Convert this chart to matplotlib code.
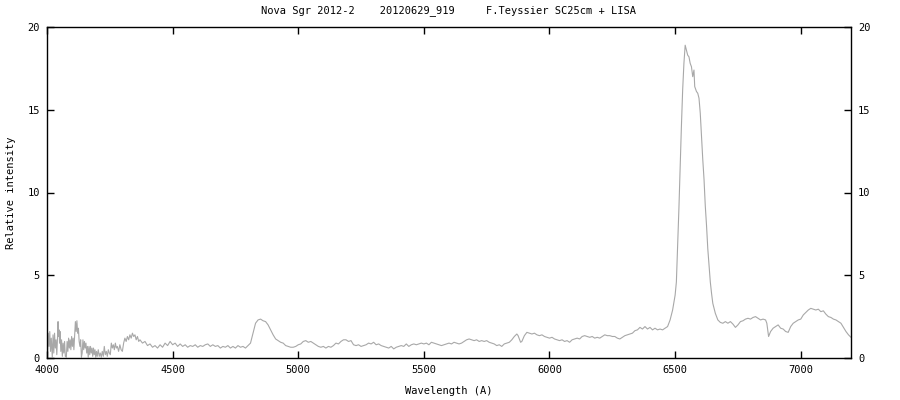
import matplotlib
matplotlib.use("Agg")
import matplotlib.pyplot as plt

wl_blue = [4000, 4002, 4005, 4008, 4011, 4014, 4017, 4021, 4024, 4027, 4030, 4033, 4036, 4039,
           4042, 4044, 4046, 4048, 4050, 4052, 4055, 4058, 4061, 4064, 4067, 4070, 4073, 4077,
           4080, 4083, 4086, 4089, 4092, 4095, 4098, 4101, 4104, 4107, 4110, 4113, 4116, 4119,
           4122, 4125, 4128, 4131, 4134, 4137, 4140, 4143, 4146, 4149, 4152, 4155, 4158, 4161,
           4164, 4167, 4170, 4173, 4176, 4179, 4182, 4185, 4188, 4191, 4194, 4197, 4200, 4204,
           4208, 4212, 4216, 4220, 4224, 4228, 4232, 4236, 4240, 4244, 4248, 4252, 4256, 4260,
           4264, 4268, 4272, 4276, 4280, 4285, 4290, 4295, 4300, 4305, 4310, 4315, 4320]
fl_blue = [2.9, 0.2, 1.5, 0.7, 1.6, 0.4, 1.2, 0.05, 1.4, 0.3, 1.5, 0.6, 1.1, 0.2,
           1.3, 2.2, 1.3, 1.7, 0.9, 1.6, 0.4, 1.1, 0.1, 0.9, 0.3, 1.0, 0.1, 0.05,
           1.0, 0.4, 1.2, 0.6, 1.1, 0.5, 1.3, 0.7, 1.2, 0.5, 1.4, 2.2, 1.6, 2.25,
           1.5, 1.8, 1.0, 0.7, 1.1, 0.05, 0.3, 1.1, 0.5, 1.0, 0.6, 0.9, 0.3, 0.7,
           0.05, 0.7, 0.2, 0.7, 0.3, 0.6, 0.1, 0.6, 0.2, 0.5, 0.05, 0.4, 0.1, 0.5,
           0.1, 0.3, 0.05, 0.4, 0.1, 0.7, 0.2, 0.4, 0.1, 0.5, 0.3, 0.2, 0.9, 0.6,
           0.8, 0.5, 0.9, 0.6, 0.7, 0.4, 0.8, 0.5, 0.4, 0.9, 1.2, 1.0, 1.3]

wl_mid = [4325, 4330, 4335, 4340, 4345, 4350, 4355, 4360, 4365, 4370, 4380, 4390, 4400, 4410,
          4420, 4430, 4440, 4450, 4460, 4470, 4480, 4490, 4500, 4510, 4520, 4530, 4540, 4550,
          4560, 4570, 4580, 4590, 4600, 4610, 4620, 4630, 4640, 4650, 4660, 4670, 4680, 4690,
          4700, 4710, 4720, 4730, 4740, 4750, 4760, 4770, 4780, 4790, 4800, 4810, 4820, 4830,
          4840, 4850, 4860, 4870, 4880, 4890, 4900, 4910, 4920, 4930, 4940, 4950, 4960, 4970,
          4980, 4990, 5000, 5010, 5020, 5030, 5040, 5050, 5060, 5070, 5080, 5090, 5100, 5110,
          5120, 5130, 5140, 5150, 5160, 5170, 5180, 5190, 5200, 5210, 5220, 5230, 5240, 5250,
          5260, 5270, 5280, 5290, 5300, 5310, 5320, 5330, 5340, 5350, 5360, 5370, 5380, 5390,
          5400, 5410, 5420, 5430, 5440, 5450, 5460, 5470, 5480, 5490, 5500, 5510, 5520, 5530,
          5540, 5550, 5560, 5570, 5580, 5590, 5600, 5610, 5620, 5630, 5640, 5650, 5660, 5670,
          5680, 5690, 5700, 5710, 5720, 5730, 5740, 5750, 5760, 5770, 5780, 5790, 5800, 5810,
          5820, 5830, 5840, 5850, 5860, 5870, 5875, 5885, 5890, 5900, 5910, 5920, 5930, 5940,
          5950, 5960, 5970, 5980, 5990, 6000, 6010, 6020, 6030, 6040, 6050, 6060, 6070, 6080,
          6090, 6100, 6110, 6120, 6130, 6140, 6150, 6160, 6170, 6180, 6190, 6200, 6210, 6220,
          6230, 6240, 6250, 6260, 6270, 6280, 6290, 6300, 6310, 6320, 6330, 6340, 6350, 6360,
          6370, 6380, 6390, 6400, 6410, 6420, 6430, 6440, 6450, 6460, 6470, 6480, 6490]
fl_mid = [1.1, 1.4, 1.2, 1.5, 1.3, 1.4, 1.1, 1.3, 1.0, 1.1, 0.9, 1.0, 0.75, 0.85,
          0.65, 0.75, 0.6, 0.8, 0.65, 0.9, 0.75, 1.0, 0.8, 0.9, 0.7, 0.85, 0.7, 0.8,
          0.65, 0.75, 0.7, 0.8, 0.65, 0.75, 0.7, 0.8, 0.85, 0.7, 0.8, 0.7, 0.75, 0.6,
          0.7, 0.65, 0.75, 0.6, 0.7, 0.6, 0.75, 0.65, 0.7, 0.6, 0.75, 0.9, 1.5, 2.1,
          2.3, 2.35, 2.25, 2.2, 2.0, 1.7, 1.4, 1.15, 1.05, 0.95, 0.9, 0.75, 0.7, 0.65,
          0.65, 0.7, 0.8, 0.85, 1.0, 1.05, 0.95, 1.0, 0.9, 0.8, 0.7, 0.65, 0.7, 0.6,
          0.7, 0.65, 0.75, 0.9, 0.85, 1.0, 1.1, 1.1, 1.0, 1.05, 0.8, 0.75, 0.8, 0.7,
          0.75, 0.8, 0.9, 0.85, 0.95, 0.8, 0.85, 0.75, 0.7, 0.65, 0.6, 0.7, 0.55, 0.65,
          0.7, 0.75, 0.7, 0.85, 0.7, 0.8, 0.85, 0.8, 0.85, 0.9, 0.85, 0.9, 0.8, 0.95,
          0.9, 0.85, 0.8, 0.75, 0.8, 0.85, 0.9, 0.85, 0.95, 0.9, 0.85, 0.9, 1.0, 1.1,
          1.15, 1.1, 1.05, 1.1, 1.0, 1.05, 1.0, 1.05, 0.95, 0.9, 0.85, 0.75, 0.8, 0.7,
          0.85, 0.9, 0.95, 1.1, 1.3, 1.45, 1.35, 0.95, 1.0, 1.35, 1.55, 1.5, 1.45, 1.5,
          1.4, 1.35, 1.4, 1.3, 1.25, 1.2, 1.25, 1.15, 1.1, 1.05, 1.1, 1.0, 1.05, 0.95,
          1.1, 1.15, 1.2, 1.15, 1.3, 1.35, 1.3, 1.25, 1.3, 1.2, 1.25, 1.2, 1.3, 1.4,
          1.35, 1.35, 1.3, 1.3, 1.2, 1.15, 1.25, 1.35, 1.4, 1.45, 1.5, 1.65, 1.7, 1.85,
          1.75, 1.9, 1.75, 1.85, 1.7, 1.8, 1.7, 1.75, 1.7, 1.8, 1.9, 2.3, 2.9]

wl_red = [6500, 6505, 6510, 6515, 6520, 6525, 6530, 6535, 6540, 6545, 6550, 6555, 6560, 6565,
          6570, 6575, 6578, 6585, 6590, 6595, 6600, 6605, 6610, 6615, 6620, 6625, 6630, 6635,
          6640, 6645, 6650, 6660, 6670, 6680, 6690, 6700, 6710, 6720, 6730, 6740, 6750, 6760,
          6770, 6780, 6790, 6800, 6810, 6820, 6830, 6840, 6850, 6860, 6865, 6872, 6880, 6890,
          6900, 6910, 6920, 6930, 6940, 6950, 6960, 6970, 6980, 6990, 7000, 7010, 7020, 7030,
          7040, 7050, 7060, 7070, 7080, 7090, 7100, 7110, 7120, 7130, 7140, 7150, 7160, 7170,
          7180, 7190, 7200]
fl_red = [3.8, 4.6, 6.8, 9.0, 11.5, 14.0, 16.2, 17.8, 18.9, 18.6, 18.3, 18.2, 17.8, 17.6,
          17.0, 17.4, 16.4, 16.1, 16.0, 15.7, 14.8, 13.4, 12.0, 10.8, 9.2, 8.0, 6.6, 5.6,
          4.6, 3.9, 3.3, 2.7, 2.3, 2.15, 2.1, 2.2, 2.1, 2.2, 2.05, 1.85, 2.0, 2.2,
          2.25, 2.35, 2.4, 2.35, 2.45, 2.5, 2.4, 2.3, 2.35, 2.3, 2.1, 1.3, 1.6, 1.8,
          1.9, 2.0, 1.8, 1.75, 1.6, 1.55, 1.9, 2.1, 2.2, 2.3, 2.35, 2.6, 2.75, 2.9,
          3.0, 2.95, 2.9, 2.95, 2.8, 2.85, 2.65, 2.5, 2.45, 2.35, 2.3, 2.2, 2.1, 1.85,
          1.6, 1.4, 1.25]

wavelength = wl_blue + wl_mid + wl_red
intensity = fl_blue + fl_mid + fl_red

title = "Nova Sgr 2012-2    20120629_919     F.Teyssier SC25cm + LISA"
x_ticks = [4000, 4500, 5000, 5500, 6000, 6500, 7000]
y_ticks = [0, 5, 10, 15, 20]

plt.rcParams['font.family'] = ['DejaVu Sans Mono']
fs = 7.5

fig = plt.figure(figsize=(9, 4), dpi=100)
ax = fig.add_axes([47/900, 42/400, 804/900, 331/400])
ax.plot(wavelength, intensity, color='#a8a8a8', linewidth=0.8)
ax.set_xlim(4000, 7200)
ax.set_ylim(0, 20)
ax.set_xticks(x_ticks)
ax.set_yticks(y_ticks)
ax.tick_params(direction='in', length=5, width=1, top=True, right=True,
               labelright=True, labelsize=fs, pad=5)
for s in ax.spines.values():
    s.set_linewidth(1)
ax.set_title(title, fontsize=fs, pad=10)
ax.set_xlabel("Wavelength (A)", fontsize=fs, labelpad=8)
ax.set_ylabel("Relative intensity", fontsize=fs, labelpad=8)

fig.savefig("out.png", dpi=100)
